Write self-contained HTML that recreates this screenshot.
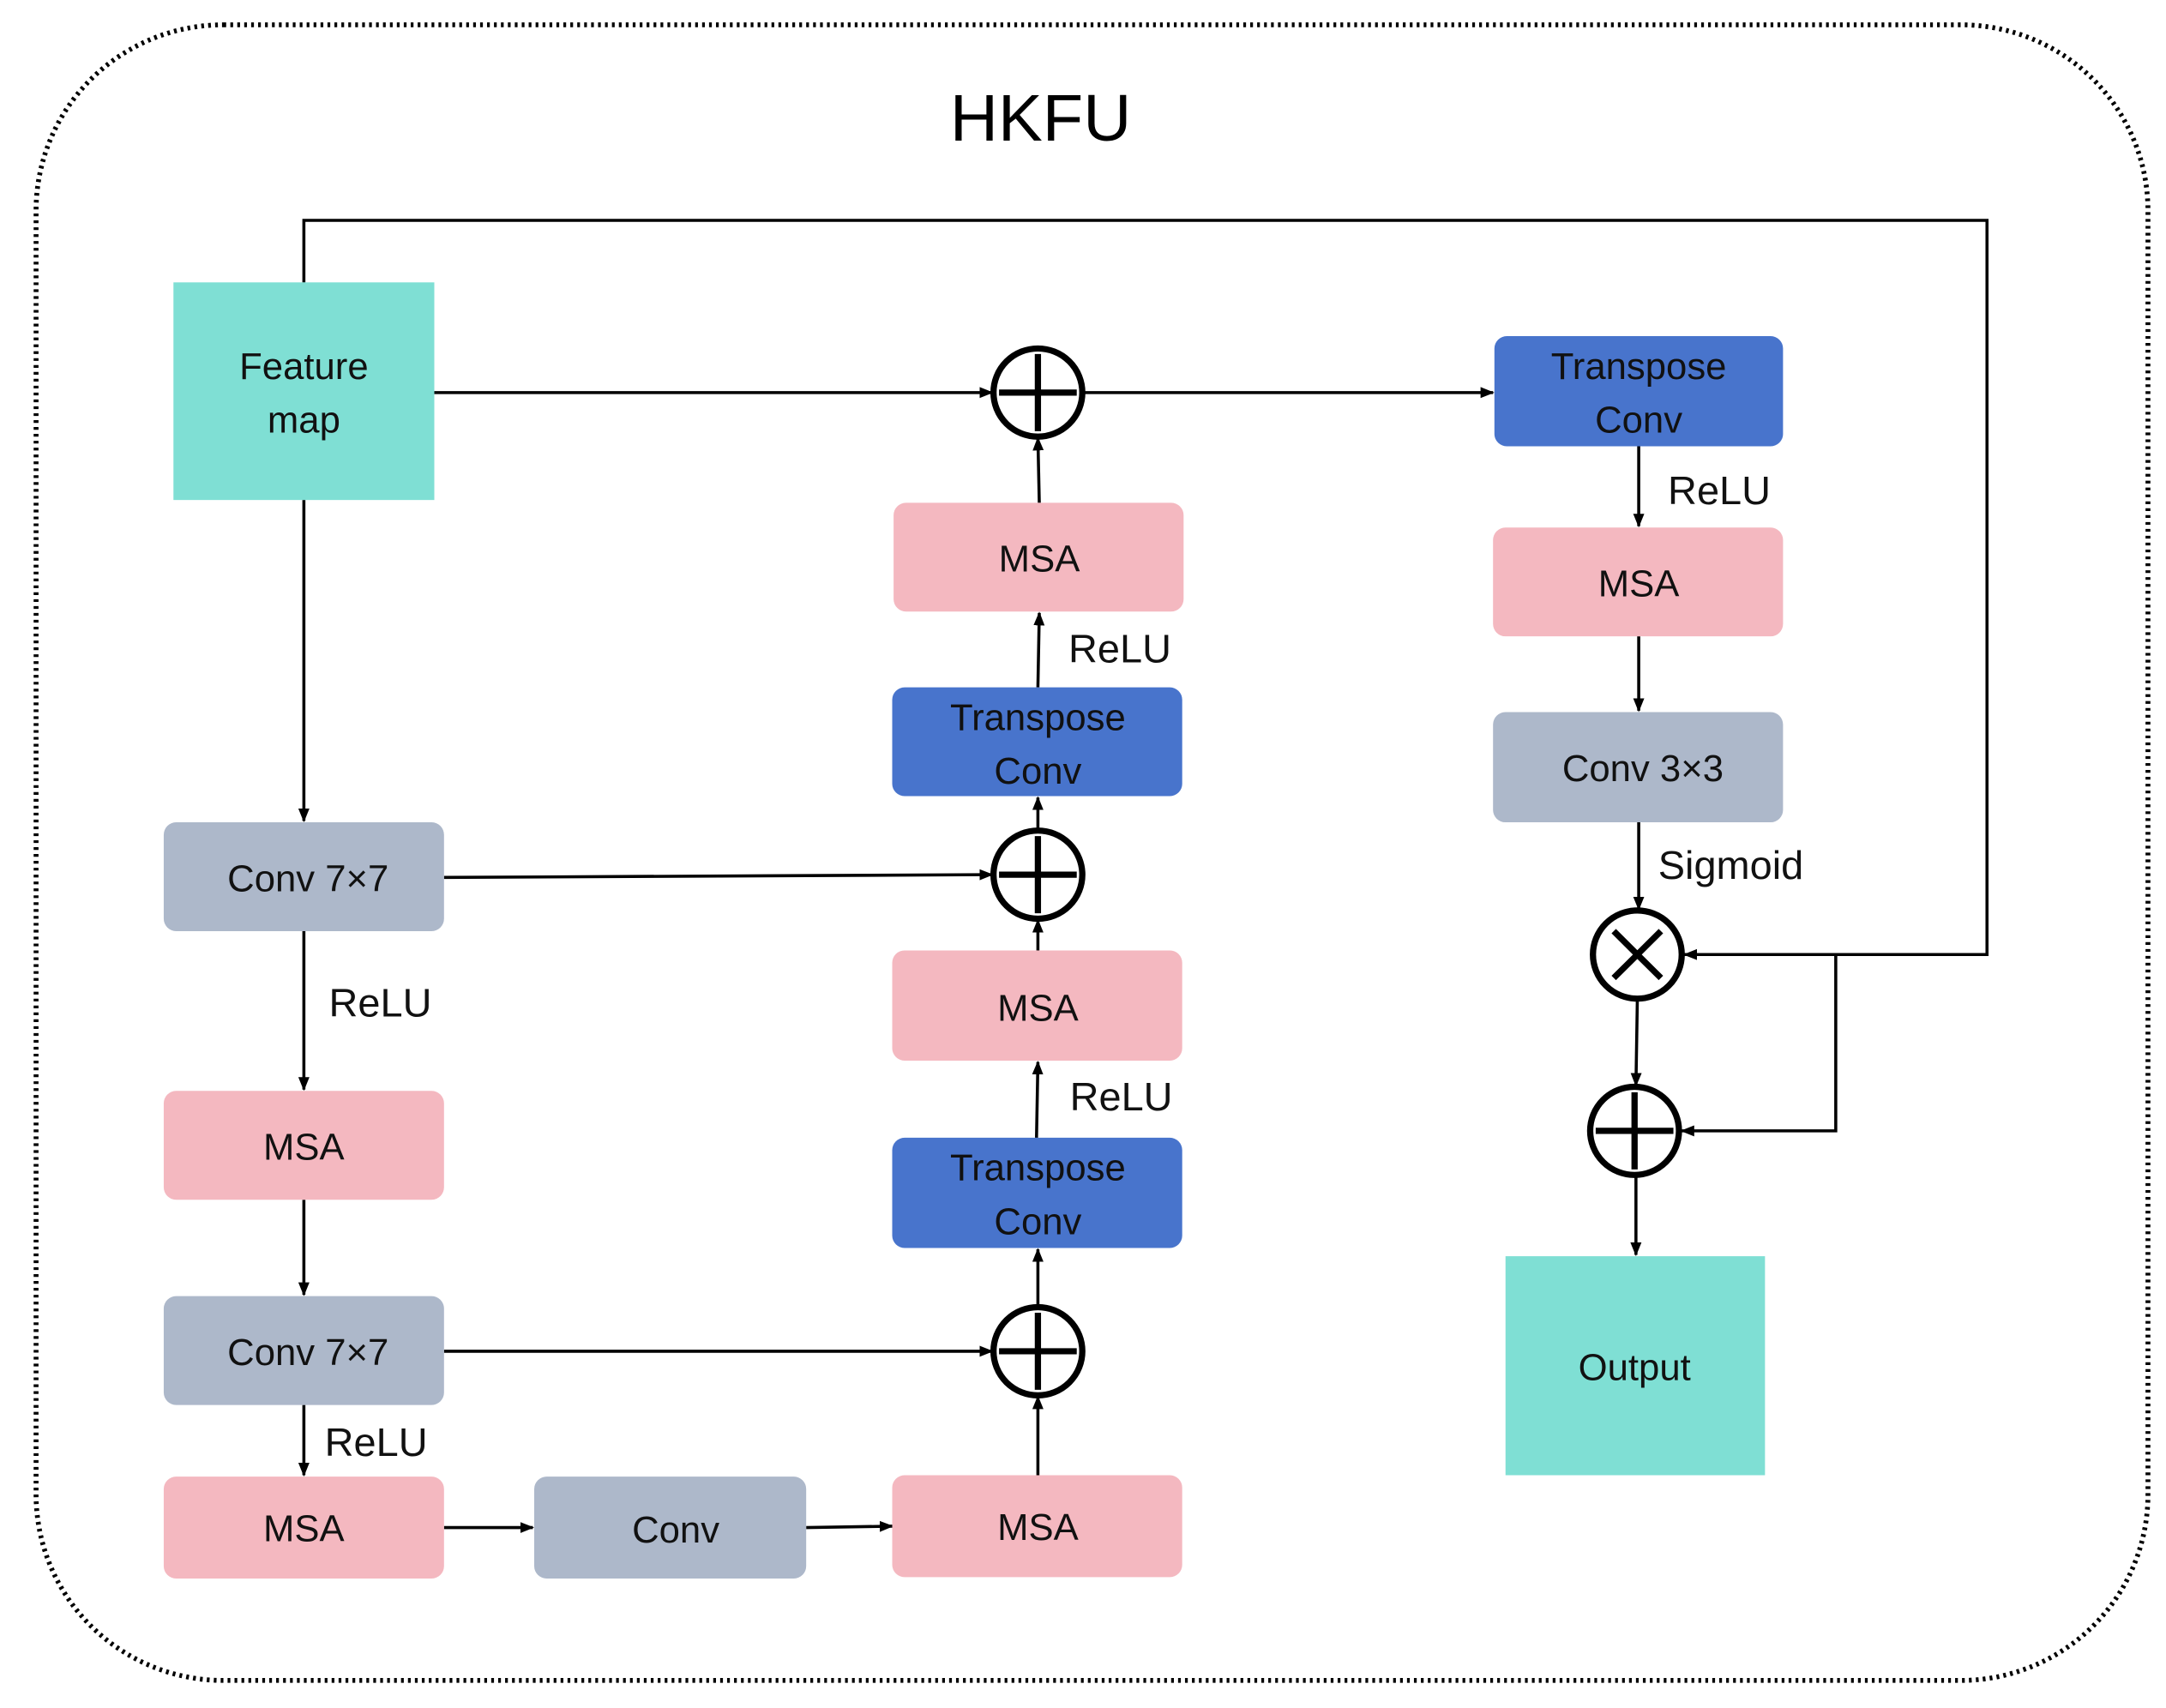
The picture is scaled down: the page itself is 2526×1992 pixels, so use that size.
<!DOCTYPE html>
<html><head><meta charset="utf-8"><style>html,body{margin:0;padding:0;background:#fff}svg{display:block}</style></head>
<body>
<svg width="2526" height="1992" viewBox="0 0 1561 1240" preserveAspectRatio="none" xmlns="http://www.w3.org/2000/svg" font-family="Liberation Sans, DejaVu Sans, sans-serif">
<defs><marker id="a" markerWidth="10" markerHeight="10" refX="9" refY="5" orient="auto" markerUnits="userSpaceOnUse"><path d="M0,1 L10,5 L0,9 z" fill="#000"/></marker></defs>
<rect x="26" y="18" width="1522" height="1202" rx="135" fill="none" stroke="#000" stroke-width="3.5" stroke-dasharray="2,3"/>
<text x="750" y="102" font-size="48" text-anchor="middle">HKFU</text>
<g stroke="#000" stroke-width="2.2" fill="none">
<polyline points="219,205 219,160 1432,160 1432,693 1214,693" marker-end="url(#a)"/>
<polyline points="1323,693 1323,821 1212,821" marker-end="url(#a)"/>
<line x1="313" y1="285" x2="715" y2="285" marker-end="url(#a)"/>
<line x1="781" y1="285" x2="1076" y2="285" marker-end="url(#a)"/>
<line x1="1181" y1="324" x2="1181" y2="382" marker-end="url(#a)"/>
<line x1="1181" y1="462" x2="1181" y2="516" marker-end="url(#a)"/>
<line x1="1181" y1="597" x2="1181" y2="660" marker-end="url(#a)"/>
<line x1="1180" y1="726" x2="1179" y2="788" marker-end="url(#a)"/>
<line x1="1179" y1="854" x2="1179" y2="911" marker-end="url(#a)"/>
<line x1="749" y1="365" x2="748" y2="318" marker-end="url(#a)"/>
<line x1="748" y1="499" x2="749" y2="445" marker-end="url(#a)"/>
<line x1="748" y1="603" x2="748" y2="579" marker-end="url(#a)"/>
<line x1="748" y1="690" x2="748" y2="668" marker-end="url(#a)"/>
<line x1="747" y1="826" x2="748" y2="771" marker-end="url(#a)"/>
<line x1="748" y1="949" x2="748" y2="907" marker-end="url(#a)"/>
<line x1="748" y1="1071" x2="748" y2="1014" marker-end="url(#a)"/>
<line x1="320" y1="637" x2="715" y2="635" marker-end="url(#a)"/>
<line x1="320" y1="981" x2="715" y2="981" marker-end="url(#a)"/>
<line x1="219" y1="363" x2="219" y2="596" marker-end="url(#a)"/>
<line x1="219" y1="676" x2="219" y2="791" marker-end="url(#a)"/>
<line x1="219" y1="871" x2="219" y2="940" marker-end="url(#a)"/>
<line x1="219" y1="1020" x2="219" y2="1071" marker-end="url(#a)"/>
<line x1="320" y1="1109" x2="384" y2="1109" marker-end="url(#a)"/>
<line x1="581" y1="1109" x2="643" y2="1108" marker-end="url(#a)"/>
</g>
<g stroke="none">
<rect x="125" y="205" width="188" height="158" fill="#7FDFD4"/>
<rect x="1085" y="912" width="187" height="159" fill="#7FDFD4"/>
<rect x="1077" y="244" width="208" height="80" rx="9" fill="#4874CC"/>
<rect x="1076" y="383" width="209" height="79" rx="9" fill="#F4B8C0"/>
<rect x="1076" y="517" width="209" height="80" rx="9" fill="#ADB8CA"/>
<rect x="644" y="365" width="209" height="79" rx="9" fill="#F4B8C0"/>
<rect x="643" y="499" width="209" height="79" rx="9" fill="#4874CC"/>
<rect x="643" y="690" width="209" height="80" rx="9" fill="#F4B8C0"/>
<rect x="643" y="826" width="209" height="80" rx="9" fill="#4874CC"/>
<rect x="643" y="1071" width="209" height="74" rx="9" fill="#F4B8C0"/>
<rect x="118" y="597" width="202" height="79" rx="9" fill="#ADB8CA"/>
<rect x="118" y="792" width="202" height="79" rx="9" fill="#F4B8C0"/>
<rect x="118" y="941" width="202" height="79" rx="9" fill="#ADB8CA"/>
<rect x="118" y="1072" width="202" height="74" rx="9" fill="#F4B8C0"/>
<rect x="385" y="1072" width="196" height="74" rx="9" fill="#ADB8CA"/>
</g>
<g fill="#fff" stroke="#000" stroke-width="4.5">
<circle cx="748" cy="285" r="32"/><path d="M748,257 V313 M720,285 H776"/>
<circle cx="748" cy="635" r="32"/><path d="M748,607 V663 M720,635 H776"/>
<circle cx="748" cy="981" r="32"/><path d="M748,953 V1009 M720,981 H776"/>
<circle cx="1178" cy="821" r="32"/><path d="M1178,793 V849 M1150,821 H1206"/>
<circle cx="1180" cy="693" r="32"/><path d="M1163,676 L1197,710 M1197,676 L1163,710"/>
</g>
<g font-size="27" text-anchor="middle" fill="#111">
<text x="219" y="275">Feature</text><text x="219" y="314">map</text>
<text x="1178" y="1002">Output</text>
<text x="1181" y="275">Transpose</text><text x="1181" y="314">Conv</text>
<text x="1181" y="433">MSA</text>
<text x="1184" y="567">Conv 3×3</text>
<text x="749" y="415">MSA</text>
<text x="748" y="530">Transpose</text><text x="748" y="569">Conv</text>
<text x="748" y="741">MSA</text>
<text x="748" y="857">Transpose</text><text x="748" y="896">Conv</text>
<text x="748" y="1118">MSA</text>
<text x="222" y="647">Conv 7×7</text>
<text x="219" y="842">MSA</text>
<text x="222" y="991">Conv 7×7</text>
<text x="219" y="1119">MSA</text>
<text x="487" y="1120">Conv</text>
</g>
<g font-size="29" fill="#111">
<text x="1202" y="366">ReLU</text>
<text x="770" y="481">ReLU</text>
<text x="771" y="806">ReLU</text>
<text x="237" y="738">ReLU</text>
<text x="234" y="1057">ReLU</text>
<text x="1195" y="638">Sigmoid</text>
</g>
</svg>
</body></html>
